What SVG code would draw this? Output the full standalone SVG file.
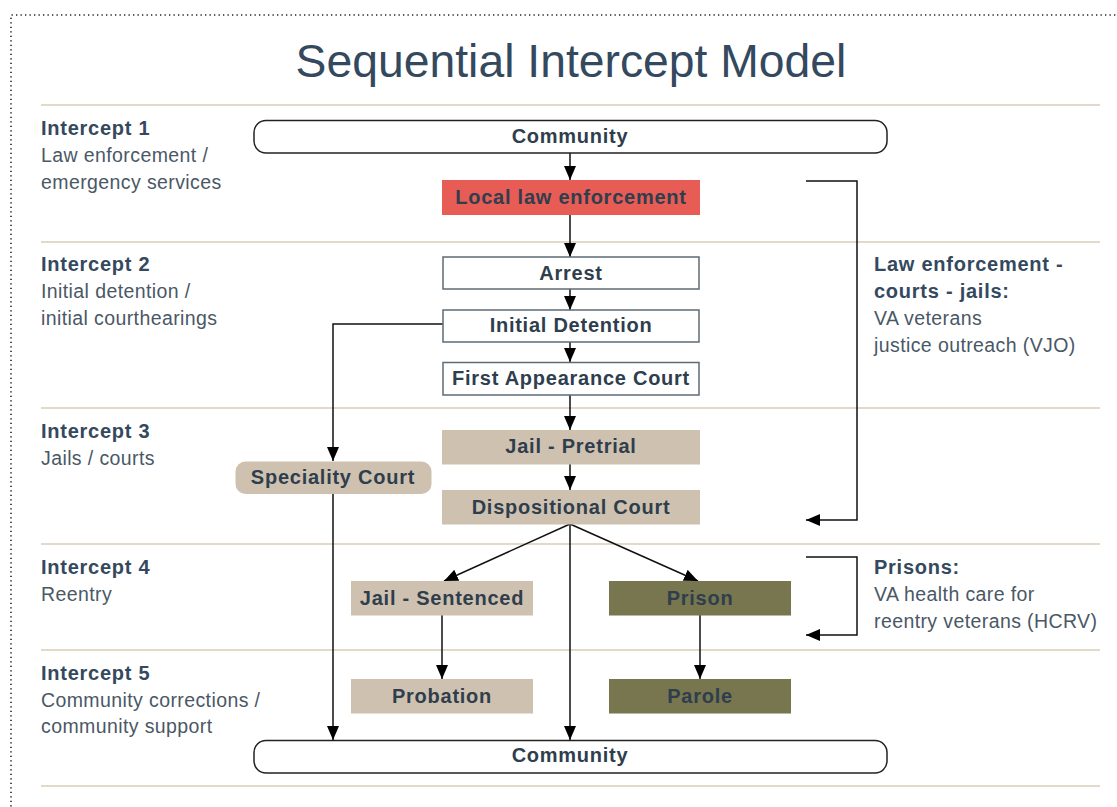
<svg xmlns="http://www.w3.org/2000/svg" width="1117" height="807" viewBox="0 0 1117 807">
<defs>
<style>
.sep{stroke:#d9ccba;stroke-width:1.5;fill:none}
.t{font-family:"Liberation Sans",Arial,sans-serif;fill:#34495e}
.h{font-size:20px;font-weight:bold;letter-spacing:0.75px}
.r{font-size:19.5px;fill:#4a5866;letter-spacing:0.4px}
.n{font-family:"Liberation Sans",Arial,sans-serif;font-size:20px;font-weight:bold;fill:#2f3e4d;text-anchor:middle;letter-spacing:0.75px}
.box{stroke:#5d6b77;stroke-width:1.5}
.con{stroke:#111;stroke-width:1.5;fill:none}
</style>
<marker id="ah" markerUnits="userSpaceOnUse" markerWidth="14" markerHeight="12" refX="14" refY="6" orient="auto">
<path d="M0,0 L14,6 L0,12 z" fill="#000"/>
</marker>
</defs>
<rect x="0" y="0" width="1117" height="807" fill="#fff"/>
<path d="M11,1000 L11,15 L1200,15" fill="none" stroke="#222" stroke-width="1.6" stroke-dasharray="1.3 3.2"/>
<text class="t" x="571" y="77" text-anchor="middle" style="font-size:46.3px">Sequential Intercept Model</text>
<g id="separators">
<line class="sep" x1="41" y1="105" x2="1100" y2="105"/>
<line class="sep" x1="41" y1="242" x2="1100" y2="242"/>
<line class="sep" x1="41" y1="408" x2="1100" y2="408"/>
<line class="sep" x1="41" y1="544" x2="1100" y2="544"/>
<line class="sep" x1="41" y1="650" x2="1100" y2="650"/>
<line class="sep" x1="41" y1="786" x2="1100" y2="786"/>
</g>
<g id="left-labels">
<text class="t h" x="41" y="135">Intercept 1</text>
<text class="t r" x="41" y="162">Law enforcement /</text>
<text class="t r" x="41" y="189">emergency services</text>
<text class="t h" x="41" y="271">Intercept 2</text>
<text class="t r" x="41" y="298">Initial detention /</text>
<text class="t r" x="41" y="325">initial courthearings</text>
<text class="t h" x="41" y="438">Intercept 3</text>
<text class="t r" x="41" y="465">Jails / courts</text>
<text class="t h" x="41" y="574">Intercept 4</text>
<text class="t r" x="41" y="601">Reentry</text>
<text class="t h" x="41" y="680">Intercept 5</text>
<text class="t r" x="41" y="707">Community corrections /</text>
<text class="t r" x="41" y="733">community support</text>
</g>
<g id="right-labels">
<text class="t h" x="874" y="271">Law enforcement -</text>
<text class="t h" x="874" y="298">courts - jails:</text>
<text class="t r" x="874" y="325">VA veterans</text>
<text class="t r" x="874" y="352">justice outreach (VJO)</text>
<text class="t h" x="874" y="574">Prisons:</text>
<text class="t r" x="874" y="601">VA health care for</text>
<text class="t r" x="874" y="628">reentry veterans (HCRV)</text>
</g>
<g id="connectors">
<line class="con" x1="570" y1="153" x2="570" y2="180" marker-end="url(#ah)"/>
<line class="con" x1="570" y1="214" x2="570" y2="257" marker-end="url(#ah)"/>
<line class="con" x1="570" y1="289" x2="570" y2="310" marker-end="url(#ah)"/>
<line class="con" x1="570" y1="342" x2="570" y2="362" marker-end="url(#ah)"/>
<line class="con" x1="570" y1="395" x2="570" y2="430" marker-end="url(#ah)"/>
<line class="con" x1="570" y1="464" x2="570" y2="490" marker-end="url(#ah)"/>
<polyline class="con" points="443,324 333,324 333,461" marker-end="url(#ah)"/>
<line class="con" x1="333" y1="494" x2="333" y2="740" marker-end="url(#ah)"/>
<line class="con" x1="570" y1="524" x2="444" y2="581" marker-end="url(#ah)"/>
<line class="con" x1="570" y1="524" x2="698" y2="581" marker-end="url(#ah)"/>
<line class="con" x1="570" y1="524" x2="570" y2="740" marker-end="url(#ah)"/>
<line class="con" x1="442" y1="615" x2="442" y2="679" marker-end="url(#ah)"/>
<line class="con" x1="700" y1="615" x2="700" y2="679" marker-end="url(#ah)"/>
<polyline class="con" points="806,181 857,181 857,520 806,520" marker-end="url(#ah)"/>
<polyline class="con" points="806,557 857,557 857,635 806,635" marker-end="url(#ah)"/>
</g>
<g id="community-top">
<rect x="254" y="120.5" width="633" height="32.5" rx="12" fill="#fff" stroke="#222" stroke-width="1.5"/>
<text class="n" x="570" y="143">Community</text>
</g>
<g id="local-law-enforcement">
<rect x="442" y="180" width="258" height="35" fill="#e85c56"/>
<text class="n" x="571" y="204">Local law enforcement</text>
</g>
<g id="arrest">
<rect class="box" x="443" y="257" width="256" height="32" fill="#fff"/>
<text class="n" x="571" y="280">Arrest</text>
</g>
<g id="initial-detention">
<rect class="box" x="443" y="310" width="256" height="32" fill="#fff"/>
<text class="n" x="571" y="332">Initial Detention</text>
</g>
<g id="first-appearance-court">
<rect class="box" x="443" y="362.5" width="256" height="32.5" fill="#fff"/>
<text class="n" x="571" y="385">First Appearance Court</text>
</g>
<g id="jail-pretrial">
<rect x="442" y="430" width="258" height="34.5" fill="#cfc1b0"/>
<text class="n" x="571" y="453">Jail - Pretrial</text>
</g>
<g id="dispositional-court">
<rect x="442" y="490" width="258" height="34.5" fill="#cfc1b0"/>
<text class="n" x="571" y="514">Dispositional Court</text>
</g>
<g id="speciality-court">
<rect x="235.5" y="461.5" width="196" height="32.5" rx="10" fill="#cfc1b0"/>
<text class="n" x="333" y="484">Speciality Court</text>
</g>
<g id="jail-sentenced">
<rect x="351" y="581" width="182" height="34.5" fill="#cfc1b0"/>
<text class="n" x="442" y="605">Jail - Sentenced</text>
</g>
<g id="prison">
<rect x="609" y="581" width="182" height="34.5" fill="#77764f"/>
<text class="n" x="700" y="605">Prison</text>
</g>
<g id="probation">
<rect x="351" y="679" width="182" height="34.5" fill="#cfc1b0"/>
<text class="n" x="442" y="703">Probation</text>
</g>
<g id="parole">
<rect x="609" y="679" width="182" height="34.5" fill="#77764f"/>
<text class="n" x="700" y="703">Parole</text>
</g>
<g id="community-bottom">
<rect x="254" y="740.5" width="633" height="32.5" rx="12" fill="#fff" stroke="#222" stroke-width="1.5"/>
<text class="n" x="570" y="762">Community</text>
</g>
</svg>
